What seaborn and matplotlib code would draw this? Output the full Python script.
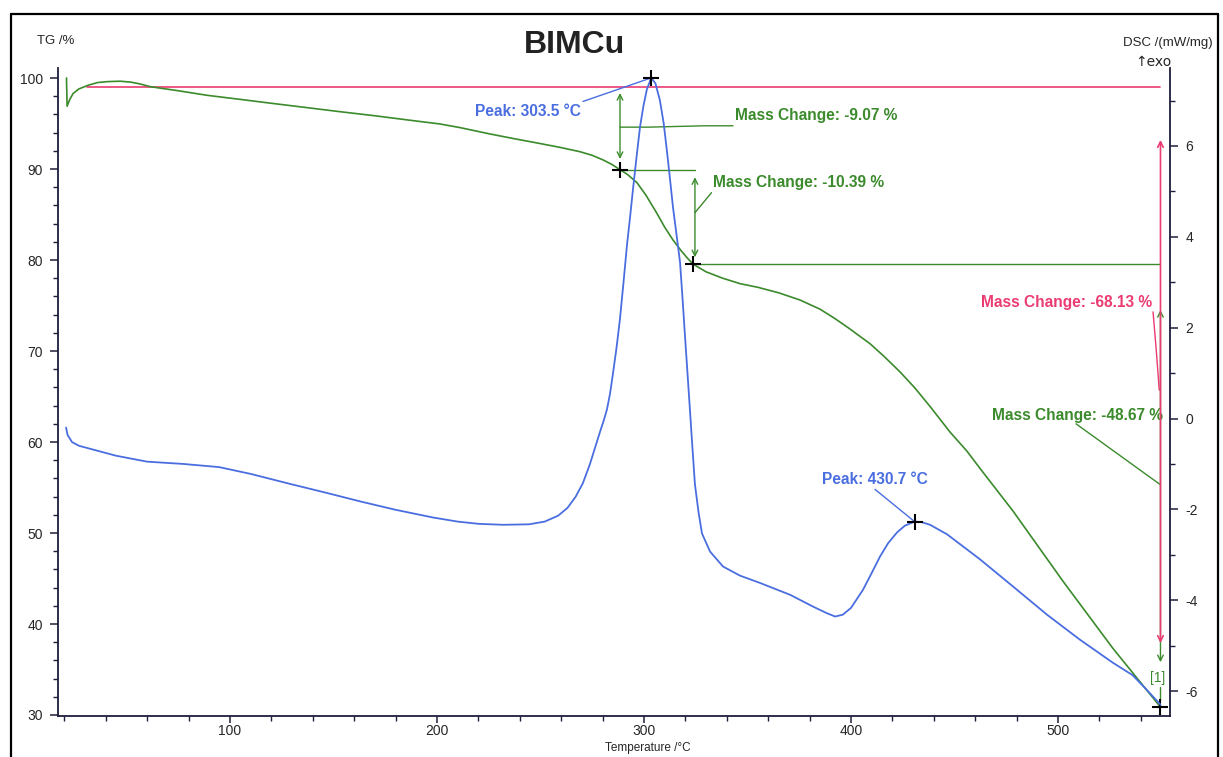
import matplotlib
matplotlib.use("Agg")
import matplotlib.pyplot as plt
from matplotlib.ticker import MultipleLocator
from matplotlib.lines import Line2D
import seaborn as sns

# ---- TG curve (mass %, left axis) ----
tg_temp = [21.0, 21.3, 22.5, 24.2, 27.0, 31.4, 36.0, 40.6, 46.9, 52.0, 56.5, 61.4,
           75.0, 88.9, 105.0, 120.8, 137.0, 153.1, 170.0, 185.5, 201.4, 211.1,
           225.6, 238.0, 249.8, 260.0, 269.1, 275.0, 280.2, 284.5, 288.4, 292.0,
           296.6, 301.0, 306.3, 310.0, 314.0, 318.0, 321.0, 323.7, 330.0, 338.0,
           346.4, 355.0, 365.0, 375.4, 385.0, 392.0, 399.0, 409.2, 416.0, 423.7,
           431.0, 438.2, 447.8, 456.0, 462.3, 478.3, 502.4, 526.6, 549.5]
tg_mass = [100.0, 96.9, 97.6, 98.3, 98.8, 99.2, 99.5, 99.6, 99.65, 99.55, 99.35, 99.05,
           98.6, 98.1, 97.65, 97.2, 96.75, 96.3, 95.85, 95.4, 94.95, 94.55,
           93.85, 93.3, 92.8, 92.35, 91.9, 91.5, 91.0, 90.5, 89.93, 89.4,
           88.5, 87.1, 85.1, 83.6, 82.2, 81.0, 80.2, 79.54, 78.7, 78.0,
           77.4, 77.0, 76.4, 75.6, 74.6, 73.6, 72.5, 70.8, 69.4, 67.7,
           65.9, 63.9, 61.1, 59.0, 57.1, 52.4, 44.7, 37.3, 30.87]

# ---- DSC curve (mW/mg, right axis) ----
dsc_temp = [20.8, 21.5, 23.7, 27.0, 34.3, 45.0, 59.9, 77.3, 94.7, 110.0, 129.0, 146.0,
            163.3, 180.0, 198.1, 210.0, 220.3, 232.0, 244.4, 252.0, 258.5, 263.0,
            267.0, 270.5, 273.9, 276.5, 278.7, 280.5, 282.1, 283.6, 285.0, 286.7, 288.4,
            290.1, 291.8, 293.3, 294.7, 296.5, 298.1, 299.8, 301.4, 303.5, 305.5,
            307.7, 309.5, 311.1, 312.6, 314.0, 315.7, 317.4, 318.6, 319.8, 321.0,
            322.2, 323.4, 324.6, 326.3, 328.0, 331.9, 338.2, 346.4, 356.0, 370.5,
            381.6, 388.0, 392.3, 396.0, 400.0, 405.8, 410.0, 414.0, 418.0, 422.2,
            426.0, 430.7, 434.0, 438.2, 446.4, 462.3, 478.3, 494.7, 510.6, 526.6,
            536.0, 543.0, 549.5]
dsc_value = [-0.20, -0.36, -0.52, -0.60, -0.69, -0.82, -0.95, -1.00, -1.07, -1.22, -1.44, -1.63,
             -1.83, -2.01, -2.18, -2.27, -2.32, -2.34, -2.33, -2.27, -2.14, -1.97,
             -1.72, -1.42, -1.00, -0.62, -0.30, -0.05, 0.20, 0.55, 0.99, 1.55, 2.20,
             3.00, 3.83, 4.45, 5.06, 5.80, 6.43, 6.90, 7.25, 7.50, 7.38,
             7.00, 6.50, 5.88, 5.25, 4.65, 4.05, 3.44, 2.65, 1.81, 1.00,
             0.18, -0.65, -1.45, -2.05, -2.53, -2.93, -3.26, -3.46, -3.62, -3.88,
             -4.14, -4.28, -4.36, -4.32, -4.17, -3.77, -3.40, -3.04, -2.74, -2.51,
             -2.36, -2.27, -2.28, -2.34, -2.55, -3.10, -3.70, -4.32, -4.87, -5.38,
             -5.65, -5.98, -6.30]

# ---- evaluation results ----
tg_ref_level = 99.0
mass_steps = [-9.07, -10.39, -48.67]
total_change = -68.13
step_temps = [288.4, 323.7, 549.5]
dsc_peak_temps = [303.5, 430.7]
dsc_peak_values = [7.50, -2.27]

GREEN = "#3b8a2c"
BLUE = "#4a6ee0"
PINK = "#ea3c72"
AXC = "#1e1e3c"

sns.set_style("ticks")
plt.rcParams["font.family"] = ["Liberation Sans", "DejaVu Sans"]
plt.rcParams["axes.unicode_minus"] = False

fig = plt.figure(figsize=(12.23, 7.57), dpi=100)
ax1 = fig.add_axes([58 / 1223, 1 - 716 / 757, 1112 / 1223, 648 / 757])
ax2 = ax1.twinx()
ax1.patch.set_visible(False)

ax1.set_xlim(16.9, 554.1)
ax1.set_ylim(29.89, 101.1)
ax2.set_ylim(-6.55, 7.717)

# curves
sns.lineplot(x=tg_temp, y=tg_mass, ax=ax1, color=GREEN, lw=1.2,
             estimator=None, sort=False, zorder=3)
sns.lineplot(x=dsc_temp, y=dsc_value, ax=ax2, color=BLUE, lw=1.3,
             estimator=None, sort=False, zorder=3)

# step levels derived from the mass changes
lvl1 = tg_ref_level + mass_steps[0]
lvl2 = lvl1 + mass_steps[1]
lvl3 = lvl2 + mass_steps[2]

bold = dict(fontweight="bold", fontsize=11.2)

# reference (initial mass) line
ax1.plot([31.0, step_temps[2]], [tg_ref_level, tg_ref_level], color=PINK, lw=1.2, zorder=2)

# step 1
arrow_g = dict(arrowstyle="<->", color=GREEN, lw=1.0, mutation_scale=10, shrinkA=0, shrinkB=0)
ax1.annotate("", xy=(step_temps[0], 98.35), xytext=(step_temps[0], 91.1), arrowprops=arrow_g)
ax1.plot([step_temps[0], 302.0, 329.5, 343.0], [94.6, 94.6, 94.75, 94.75], color=GREEN, lw=1.0)
ax1.text(344.0, 95.9, f"Mass Change: {mass_steps[0]:.2f} %", color=GREEN,
         ha="left", va="center", **bold)
ax1.plot([step_temps[0], 324.6], [lvl1, lvl1], color=GREEN, lw=1.0)

# step 2
ax1.annotate("", xy=(324.6, 89.1), xytext=(324.6, 80.3), arrowprops=arrow_g)
ax1.plot([324.6, 332.6], [85.2, 87.4], color=GREEN, lw=1.0)
ax1.text(333.4, 88.5, f"Mass Change: {mass_steps[1]:.2f} %", color=GREEN,
         ha="left", va="center", **bold)
ax1.plot([step_temps[1], step_temps[2]], [lvl2, lvl2], color=GREEN, lw=1.0)

# step 3 and total
ax1.annotate("", xy=(step_temps[2], 74.5), xytext=(step_temps[2], 35.8), arrowprops=arrow_g)
ax1.plot([508.7, step_temps[2]], [62.0, 55.3], color=GREEN, lw=1.0)
ax1.text(550.8, 62.9, f"Mass Change: {mass_steps[2]:.2f} %", color=GREEN,
         ha="right", va="center", **bold)
arrow_p = dict(arrowstyle="<->", color=PINK, lw=1.2, mutation_scale=10, shrinkA=0, shrinkB=0)
ax1.annotate("", xy=(step_temps[2], 93.2), xytext=(step_temps[2], 37.9), arrowprops=arrow_p)
ax1.plot([545.9, 547.5, 548.9], [74.3, 70.0, 65.7], color=PINK, lw=1.0)
ax1.text(545.4, 75.3, f"Mass Change: {total_change:.2f} %", color=PINK,
         ha="right", va="center", **bold)

# segment marker [1]
ax1.text(548.3, 34.1, "[1]", color=GREEN, fontsize=10, ha="center", va="center")
ax1.plot([549.5, 549.5], [33.1, 31.7], color=GREEN, lw=1.0)

# step markers
ax1.plot(step_temps, [lvl1, lvl2, lvl3], ls="none", marker="+", ms=11, mew=1.5,
         color="black", zorder=5)

# DSC peaks
ax2.plot(dsc_peak_temps, dsc_peak_values, ls="none", marker="+", ms=11, mew=1.5,
         color="black", zorder=5)
ax2.plot([270.5, dsc_peak_temps[0]], [6.98, dsc_peak_values[0]], color=BLUE, lw=1.0)
ax2.text(218.4, 6.76, f"Peak: {dsc_peak_temps[0]:.1f} °C", color=BLUE,
         ha="left", va="center", **bold)
ax2.plot([411.6, dsc_peak_temps[1]], [-1.56, dsc_peak_values[1]], color=BLUE, lw=1.0)
ax2.text(386.0, -1.34, f"Peak: {dsc_peak_temps[1]:.1f} °C", color=BLUE,
         ha="left", va="center", **bold)

# axes styling
for ax in (ax1, ax2):
    ax.spines["top"].set_visible(False)
    for s in ax.spines.values():
        s.set_color(AXC)
        s.set_linewidth(1.3)
ax1.spines["right"].set_visible(False)
ax2.spines["left"].set_visible(False)
ax2.spines["bottom"].set_visible(False)

ax1.xaxis.set_major_locator(MultipleLocator(100))
ax1.xaxis.set_minor_locator(MultipleLocator(20))
ax1.yaxis.set_major_locator(MultipleLocator(10))
ax1.yaxis.set_minor_locator(MultipleLocator(2))
ax2.yaxis.set_major_locator(MultipleLocator(2))
ax2.yaxis.set_minor_locator(MultipleLocator(1))

for ax in (ax1, ax2):
    ax.tick_params(which="major", direction="out", length=6, width=1.1, color=AXC,
                   labelsize=10, pad=5)
    ax.tick_params(which="minor", direction="out", length=3.5, width=1.0, color=AXC)
ax1.tick_params(axis="x", which="both", bottom=True)
ax1.tick_params(axis="x", which="major", length=5, pad=1)
ax1.tick_params(axis="y", which="both", left=True, right=False)
ax2.tick_params(axis="y", which="both", right=True, left=False)
ax1.set_xlabel("")
ax1.set_ylabel("")
ax2.set_ylabel("")

# titles and axis captions
fig.text(575 / 1223, 1 - 45 / 757, "BIMCu", fontsize=23, fontweight="bold",
         ha="center", va="center", color="#222222")
fig.text(37 / 1223, 1 - 41 / 757, "TG /%", fontsize=9.5, ha="left", va="center")
fig.text(1213 / 1223, 1 - 43 / 757, "DSC /(mW/mg)", fontsize=9.5, ha="right", va="center")
fig.text(1153 / 1223, 1 - 62 / 757, "↑exo", fontsize=10, ha="center", va="center",
         family=["DejaVu Sans"])
fig.text(648 / 1223, 1 - 748 / 757, "Temperature /°C", fontsize=8.5, ha="center", va="center")

# outer frame
for xs, ys in [([11, 11], [14, 757]), ([11, 1218], [14, 14]), ([1218, 1218], [14, 757])]:
    fig.add_artist(Line2D([x / 1223 for x in xs], [1 - y / 757 for y in ys],
                          color="black", lw=1.6))

fig.savefig("out.png", dpi=100)
